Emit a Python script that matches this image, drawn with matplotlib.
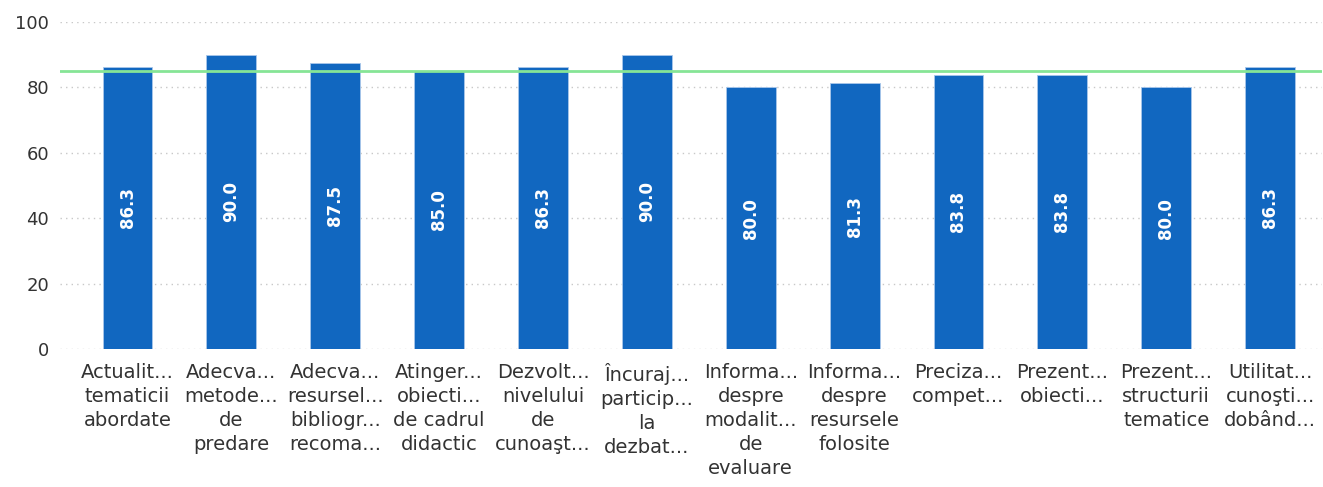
import numpy as np
import matplotlib.pyplot as plt

plt.rcParams['font.family'] = ['DejaVu Sans']

categories = [
    "Actualit...\ntematicii\nabordate",
    "Adecva...\nmetode...\nde\npredare",
    "Adecva...\nresursel...\nbibliogr...\nrecoma...",
    "Atinger...\nobiecti...\nde cadrul\ndidactic",
    "Dezvolt...\nnivelului\nde\ncunoaşt...",
    "Încuraj...\nparticip...\nla\ndezbat...",
    "Informa...\ndespre\nmodalit...\nde\nevaluare",
    "Informa...\ndespre\nresursele\nfolosite",
    "Preciza...\ncompet...",
    "Prezent...\nobiecti...",
    "Prezent...\nstructurii\ntematice",
    "Utilitat...\ncunoşti...\ndobând...",
]
values = [86.3, 90.0, 87.5, 85.0, 86.3, 90.0, 80.0, 81.3, 83.8, 83.8, 80.0, 86.3]
target = 85.0

bar_color = "#1167c0"
line_color = "#86e596"

fig = plt.figure(figsize=(13.23, 4.87), dpi=100)
ax = fig.add_axes([60 / 1323, 1 - 349 / 487, 1262 / 1323, 327 / 487])

x = np.arange(len(values))
ax.bar(x, values, width=0.48, color=bar_color, edgecolor="#a9c7ea", linewidth=0.6, zorder=2)
ax.axhline(target, color=line_color, linewidth=2, zorder=3)

for xi, v in zip(x, values):
    ax.text(xi, v / 2, f"{v:.1f}", rotation=90, ha="center", va="center",
            color="white", fontsize=12, fontweight="bold", zorder=4)

ax.set_xlim(-0.65, 11.5)
ax.set_ylim(0, 100)
ax.set_yticks([0, 20, 40, 60, 80, 100])
ax.grid(axis="y", linestyle=(0, (1, 3)), color="#c8c8c8", linewidth=1, zorder=0)
for s in ax.spines.values():
    s.set_visible(False)
ax.tick_params(axis="y", length=0, labelsize=13, colors="#333333", pad=8)
ax.set_xticks(x)
ax.set_xticklabels(categories, linespacing=1.33)
ax.tick_params(axis="x", length=0, labelsize=14, colors="#333333", pad=10)

fig.savefig("out.png", dpi=100)
